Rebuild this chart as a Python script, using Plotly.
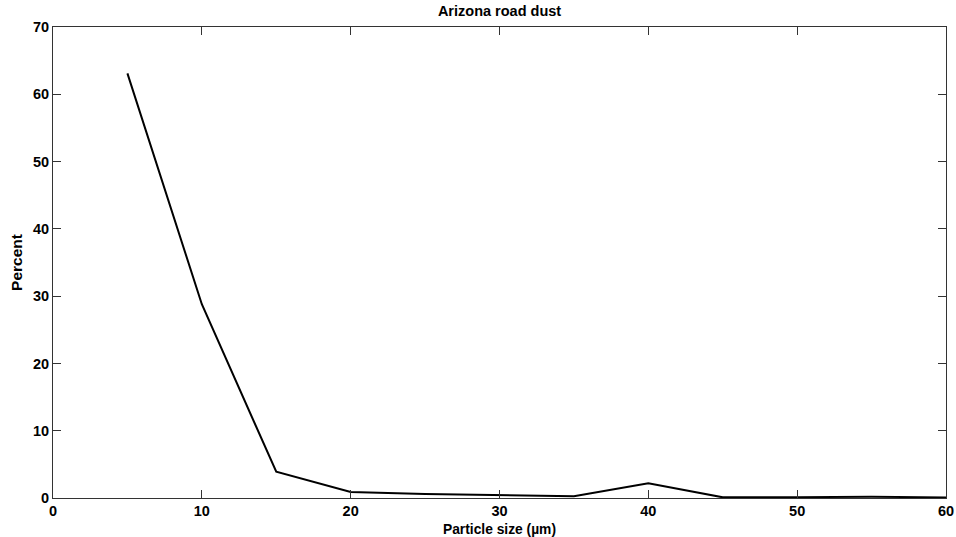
import plotly.graph_objects as go

size_um = [5, 10, 15, 20, 25, 30, 35, 40, 45, 50, 55, 60]
percent = [63.1, 28.8, 3.9, 0.9, 0.6, 0.4, 0.25, 2.2, 0.1, 0.12, 0.2, 0.08]

x_ticks = [0, 10, 20, 30, 40, 50, 60]
y_ticks = [0, 10, 20, 30, 40, 50, 60, 70]

def f(size):
    return dict(family="Liberation Sans, Arial, sans-serif", size=size, color="black", weight="bold")

fig = go.Figure()
fig.add_trace(go.Scatter(x=size_um, y=percent, mode="lines",
                         line=dict(color="black", width=2), showlegend=False))

axis_common = dict(showgrid=False, zeroline=False, showline=True, mirror="ticks",
                   linecolor="#333333", linewidth=1, ticks="inside", ticklen=8,
                   tickcolor="#333333", tickwidth=1, tickfont=f(14.5), automargin=False)

fig.update_xaxes(range=[0, 60], tickvals=x_ticks, ticktext=[str(v) for v in x_ticks],
                 title=dict(text="Particle size (µm)", font=f(13.8), standoff=6), **axis_common)
fig.update_yaxes(range=[0, 70], tickvals=y_ticks, ticktext=[str(v) for v in y_ticks],
                 title=dict(text="Percent", font=f(15.5), standoff=6), **axis_common)

fig.update_layout(
    width=956, height=537,
    margin=dict(l=53, r=10, t=27, b=39),
    paper_bgcolor="white", plot_bgcolor="white",
    title=dict(text="Arizona road dust", font=f(14.5), x=0.5225, xanchor="center",
               y=0.99, yanchor="top"),
)

fig.write_html("out.html")
